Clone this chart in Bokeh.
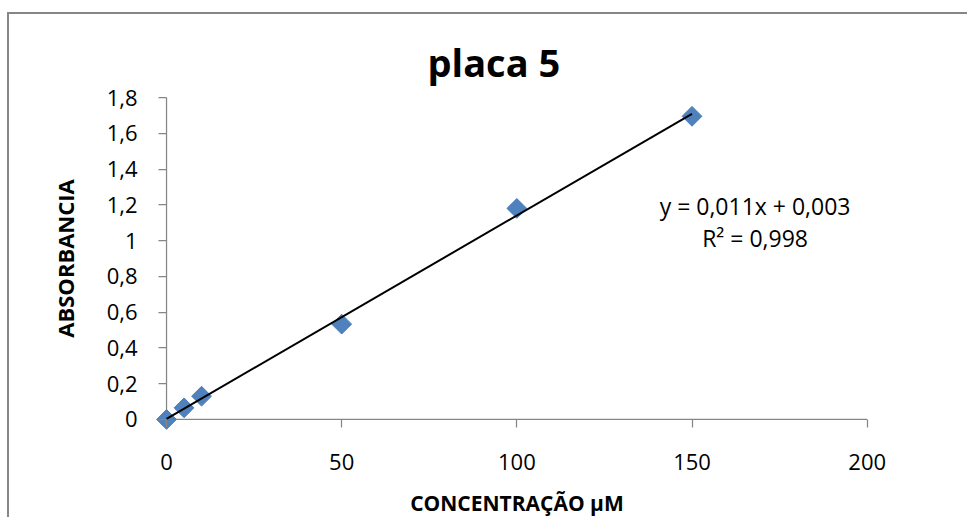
import numpy as np
from bokeh.plotting import figure
from bokeh.models import Range1d, FixedTicker, Label
from bokeh.embed import file_html
from bokeh.resources import INLINE

# ---- data ----
concentration = [0, 5, 10, 50, 100, 150]
absorbance = [0.0, 0.065, 0.13, 0.533, 1.18, 1.695]
x_ticks = [0, 50, 100, 150, 200]
x_tick_labels = ["0", "50", "100", "150", "200"]
y_ticks = [0, 0.2, 0.4, 0.6, 0.8, 1.0, 1.2, 1.4, 1.6, 1.8]
y_tick_labels = ["0", "0,2", "0,4", "0,6", "0,8", "1", "1,2", "1,4", "1,6", "1,8"]
chart_title = "placa 5"
x_title = "CONCENTRAÇÃO µM"
y_title = "ABSORBANCIA"
equation_text = "y = 0,011x + 0,003"
r2_text = "R² = 0,998"

FONT = "Open Sans"
AXIS_GREY = "#868686"

# linear trendline fitted to the points
slope, intercept = np.polyfit(concentration, absorbance, 1)
trend_x = [min(concentration), max(concentration)]
trend_y = [slope * v + intercept for v in trend_x]

# the plot frame reaches 11 px past the axes so that the markers on the axes are not cut
X_PAD = 11 / 3.4935
Y_PAD = 11 / 178.17

p = figure(
    width=958, height=503,
    x_range=Range1d(x_ticks[0] - X_PAD, x_ticks[-1] + 11.3 / 3.4935),
    y_range=Range1d(y_ticks[0] - Y_PAD, y_ticks[-1] + Y_PAD),
    output_backend="svg", toolbar_location=None,
    min_border_left=146, min_border_right=91, min_border_top=72, min_border_bottom=88,
)
# chart-area border: only its top and left edges fall inside the window
p.styles = {"margin-left": "7px", "margin-top": "12px",
            "border-left": "2px solid #868686", "border-top": "2px solid #868686",
            "box-sizing": "content-box"}
p.background_fill_color = "white"
p.border_fill_color = "white"
p.outline_line_color = None
p.xgrid.visible = False
p.ygrid.visible = False

# title
p.title.text = chart_title
p.title.text_font = FONT
p.title.text_font_style = "bold"
p.title.text_font_size = "38px"
p.title.text_color = "black"
p.title.align = "left"
p.title.offset = 272
p.title.standoff = -3

xa = p.xaxis[0]
ya = p.yaxis[0]
xa.ticker = FixedTicker(ticks=x_ticks)
xa.major_label_overrides = dict(zip(x_ticks, x_tick_labels))
xa.axis_label = x_title
ya.ticker = FixedTicker(ticks=y_ticks)
ya.major_label_overrides = dict(zip(y_ticks, y_tick_labels))
ya.axis_label = y_title

for ax in (xa, ya):
    ax.axis_line_color = None
    ax.major_tick_line_color = AXIS_GREY
    ax.major_tick_line_width = 1.25
    ax.major_tick_in = 11
    ax.major_tick_out = -3
    ax.minor_tick_line_color = None
    ax.minor_tick_in = 0
    ax.minor_tick_out = 0
    ax.major_label_text_font = FONT
    ax.major_label_text_font_size = "22px"
    ax.major_label_text_color = "black"
    ax.axis_label_text_font = FONT
    ax.axis_label_text_font_style = "bold"
    ax.axis_label_text_color = "black"

xa.axis_label_text_font_size = "21px"
ya.axis_label_text_font_size = "22px"
xa.major_label_standoff = 23
xa.axis_label_standoff = 16
ya.major_label_standoff = 18
ya.axis_label_standoff = 24

# axis rules along x = 0 and y = 0
p.line([x_ticks[0], x_ticks[-1]], [y_ticks[0], y_ticks[0]], line_color=AXIS_GREY, line_width=1.25)
p.line([x_ticks[0], x_ticks[0]], [y_ticks[0], y_ticks[-1]], line_color=AXIS_GREY, line_width=1.25)

# points and trendline
p.scatter(concentration, absorbance, marker="square", angle=np.pi / 4, size=14,
          fill_color="#4F81BD", line_color="#4A7EBB", line_width=1)
p.line(trend_x, trend_y, line_color="black", line_width=2)

# trendline equation
p.add_layout(Label(x=168, y=1.195, text=equation_text, text_align="center", text_baseline="middle",
                   text_font=FONT, text_font_size="23px", text_color="black"))
p.add_layout(Label(x=168, y=1.015, text=r2_text, text_align="center", text_baseline="middle",
                   text_font=FONT, text_font_size="23px", text_color="black"))

open("out.html", "w").write(file_html(p, INLINE))
